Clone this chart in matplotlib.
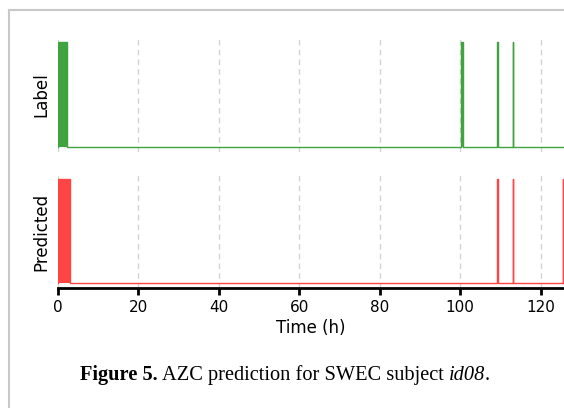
import matplotlib
matplotlib.use("Agg")
import matplotlib.pyplot as plt
import numpy as np

# seizure intervals in hours (start, end)
label_events = [(0.0, 2.2), (100.3, 100.6), (109.2, 109.3), (113.0, 113.1)]
pred_events = [(0.0, 3.1), (109.2, 109.3), (113.0, 113.1), (125.45, 125.55)]
t_end = 125.8
xticks = [0, 20, 40, 60, 80, 100, 120]


def to_signal(events, t_end):
    t = [0.0]
    y = [0.0]
    for s, e in events:
        t += [s, s, e, e]
        y += [0, 1, 1, 0]
    t.append(t_end)
    y.append(0)
    return np.array(t), np.array(y)


fig = plt.figure(figsize=(5.64, 4.08), dpi=100)

ax1 = fig.add_axes([0.1028, 0.6275, 0.8972, 0.2794])
ax2 = fig.add_axes([0.1028, 0.2941, 0.8972, 0.2770])

for ax, events, col, name in [(ax1, label_events, '#3fa33f', 'Label'),
                              (ax2, pred_events, '#ff4444', 'Predicted')]:
    t, y = to_signal(events, t_end)
    ax.plot(t, y, color=col, lw=1.0)
    ax.fill_between(t, 0, y, color=col, lw=0)
    ax.set_xlim(0, t_end)
    ax.set_ylim(-0.05, 1.04)
    ax.set_xticks(xticks)
    ax.set_yticks([])
    ax.grid(axis='x', color='#d4d4d4', linestyle=(0, (4, 3)), lw=1)
    ax.set_axisbelow(True)
    for s in ['top', 'right', 'left']:
        ax.spines[s].set_visible(False)
    ax.set_ylabel(name, fontsize=12)
    ax.yaxis.set_label_coords(-0.016, 0.5)

ax1.spines['bottom'].set_visible(False)
ax1.tick_params(axis='x', bottom=False, labelbottom=False)
ax2.spines['bottom'].set_linewidth(2)
ax2.tick_params(axis='x', width=2, length=5, labelsize=11)
ax2.set_xlabel('Time (h)', fontsize=12, labelpad=3)

# page frame
fig.add_artist(plt.Line2D([8.5 / 564, 8.5 / 564], [0, 1 - 10 / 408],
                          transform=fig.transFigure, color='#c8c8c8', lw=1.5))
fig.add_artist(plt.Line2D([8.5 / 564, 1], [1 - 10 / 408, 1 - 10 / 408],
                          transform=fig.transFigure, color='#c8c8c8', lw=1.5))

# caption
parts = [('Figure 5.', 'bold', 'normal'),
         (' AZC prediction for SWEC subject ', 'normal', 'normal'),
         ('id08', 'normal', 'italic'),
         ('.', 'normal', 'normal')]
fig.canvas.draw()
r = fig.canvas.get_renderer()
x = 80 / 564
for txt, w, st in parts:
    tt = fig.text(x, 1 - 375 / 408, txt, fontsize=14.7, family='Liberation Serif',
                  weight=w, style=st, va='center', ha='left')
    bb = tt.get_window_extent(renderer=r)
    x += bb.width / fig.bbox.width

fig.savefig('out.png', dpi=100)
